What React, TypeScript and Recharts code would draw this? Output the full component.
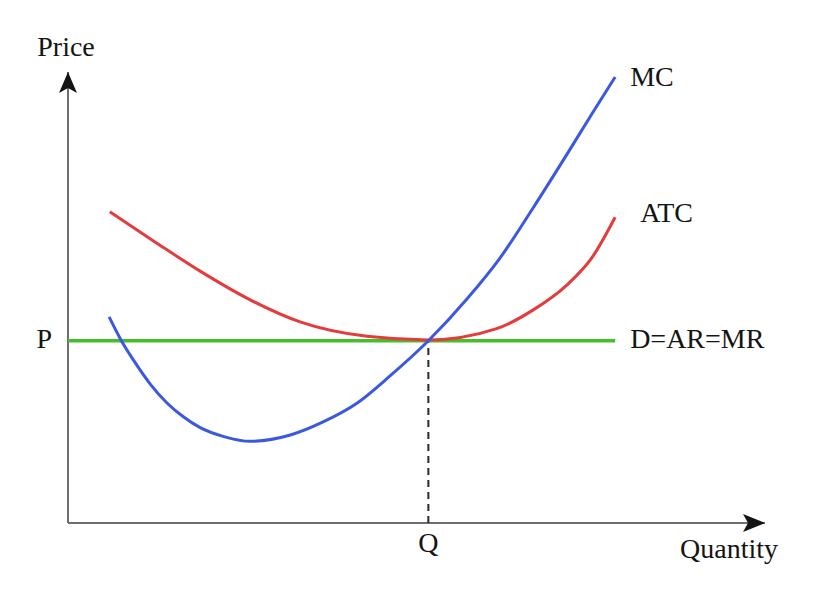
import { LineChart, Line, XAxis, YAxis, ReferenceLine, ReferenceDot } from 'recharts';

// quantity / price are in abstract units, 0..100 on both axes
const Q_MAX = 100;
const P_MAX = 100;
const PRICE = 40.4;
const QTY = 51.7;
const Q_END = 78.5;

const atcQty = [6.0, 12.8, 18.9, 26.0, 33.3, 42.9, 51.7, 61.5, 66.7, 71.6, 75.2, 78.5];
const atcCost = [69.0, 62.0, 55.9, 49.6, 44.6, 41.4, 40.6, 43.1, 47.2, 52.8, 58.9, 67.8];

const mcQty = [5.9, 7.7, 9.4, 11.8, 14.2, 16.5, 18.9, 22.5, 26.1, 31.9, 36.6, 41.5, 46.2, 51.7, 57.2, 62.0, 66.7, 71.6, 75.2, 78.5];
const mcCost = [45.7, 40.3, 36.1, 30.8, 26.6, 23.6, 21.2, 19.1, 18.1, 19.5, 22.4, 26.6, 32.6, 40.4, 49.6, 58.8, 69.8, 81.8, 90.8, 98.9];

const atcData = atcQty.map((q, i) => ({ q, p: atcCost[i] }));
const mcData = mcQty.map((q, i) => ({ q, p: mcCost[i] }));

const FONT = '"Liberation Serif", "DejaVu Serif", serif';
const INK = '#141414';
const AXIS = '#6e6e6e';

const textShape = (text: string, dx: number, dy: number, anchor: 'start' | 'middle' | 'end' = 'start') =>
    (props: any) => (
        <text
            x={props.cx + dx}
            y={props.cy + dy}
            textAnchor={anchor}
            fontFamily={FONT}
            fontSize={28}
            fill={INK}
        >
            {text}
        </text>
    );

const upArrow = (props: any) => {
    const { cx, cy } = props;
    return <path d={`M${cx},${cy} L${cx + 9},${cy + 21} L${cx},${cy + 16} L${cx - 9},${cy + 21} Z`} fill={INK} />;
};

const rightArrow = (props: any) => {
    const { cx, cy } = props;
    return <path d={`M${cx},${cy} L${cx - 22},${cy - 9} L${cx - 17},${cy} L${cx - 22},${cy + 9} Z`} fill={INK} />;
};

export default function App() {
    return (
        <div style={{ position: 'absolute', left: 0, top: 0, background: '#fff' }}>
            <LineChart width={817} height={601} margin={{ top: 72, right: 52, bottom: 78, left: 68 }}>
                <XAxis type="number" dataKey="q" domain={[0, Q_MAX]} hide allowDataOverflow />
                <YAxis type="number" dataKey="p" domain={[0, P_MAX]} hide allowDataOverflow />

                {/* axes */}
                <ReferenceLine segment={[{ x: 0, y: 0 }, { x: Q_MAX, y: 0 }]} stroke={AXIS} strokeWidth={2} ifOverflow="visible" />
                <ReferenceLine segment={[{ x: 0, y: 0 }, { x: 0, y: P_MAX }]} stroke={AXIS} strokeWidth={2} ifOverflow="visible" />
                <ReferenceDot x={0} y={P_MAX} ifOverflow="visible" shape={upArrow} />
                <ReferenceDot x={Q_MAX} y={0} ifOverflow="visible" shape={rightArrow} />

                {/* Q dashed drop line */}
                <ReferenceLine
                    segment={[{ x: QTY, y: 0 }, { x: QTY, y: PRICE }]}
                    stroke="#2a2a2a"
                    strokeWidth={2}
                    strokeDasharray="7 5"
                    ifOverflow="visible"
                />

                {/* D=AR=MR */}
                <ReferenceLine
                    segment={[{ x: 0, y: PRICE }, { x: Q_END, y: PRICE }]}
                    stroke="#46bd2b"
                    strokeWidth={3.5}
                    ifOverflow="visible"
                />

                <Line data={atcData} dataKey="p" type="monotone" stroke="#e43c3c" strokeWidth={3} dot={false} isAnimationActive={false} />
                <Line data={mcData} dataKey="p" type="monotone" stroke="#3b59e0" strokeWidth={3} dot={false} isAnimationActive={false} />

                {/* labels */}
                <ReferenceDot x={0} y={P_MAX} ifOverflow="visible" shape={textShape('Price', -2, -16, 'middle')} />
                <ReferenceDot x={Q_MAX} y={0} ifOverflow="visible" shape={textShape('Quantity', -36, 35, 'middle')} />
                <ReferenceDot x={0} y={PRICE} ifOverflow="visible" shape={textShape('P', -16, 7, 'end')} />
                <ReferenceDot x={QTY} y={0} ifOverflow="visible" shape={textShape('Q', 0, 29, 'middle')} />
                <ReferenceDot x={Q_END} y={mcCost[mcCost.length - 1]} ifOverflow="visible" shape={textShape('MC', 15, 9)} />
                <ReferenceDot x={Q_END} y={atcCost[atcCost.length - 1]} ifOverflow="visible" shape={textShape('ATC', 25, 5)} />
                <ReferenceDot x={Q_END} y={PRICE} ifOverflow="visible" shape={textShape('D=AR=MR', 15, 7)} />
            </LineChart>
        </div>
    );
}
